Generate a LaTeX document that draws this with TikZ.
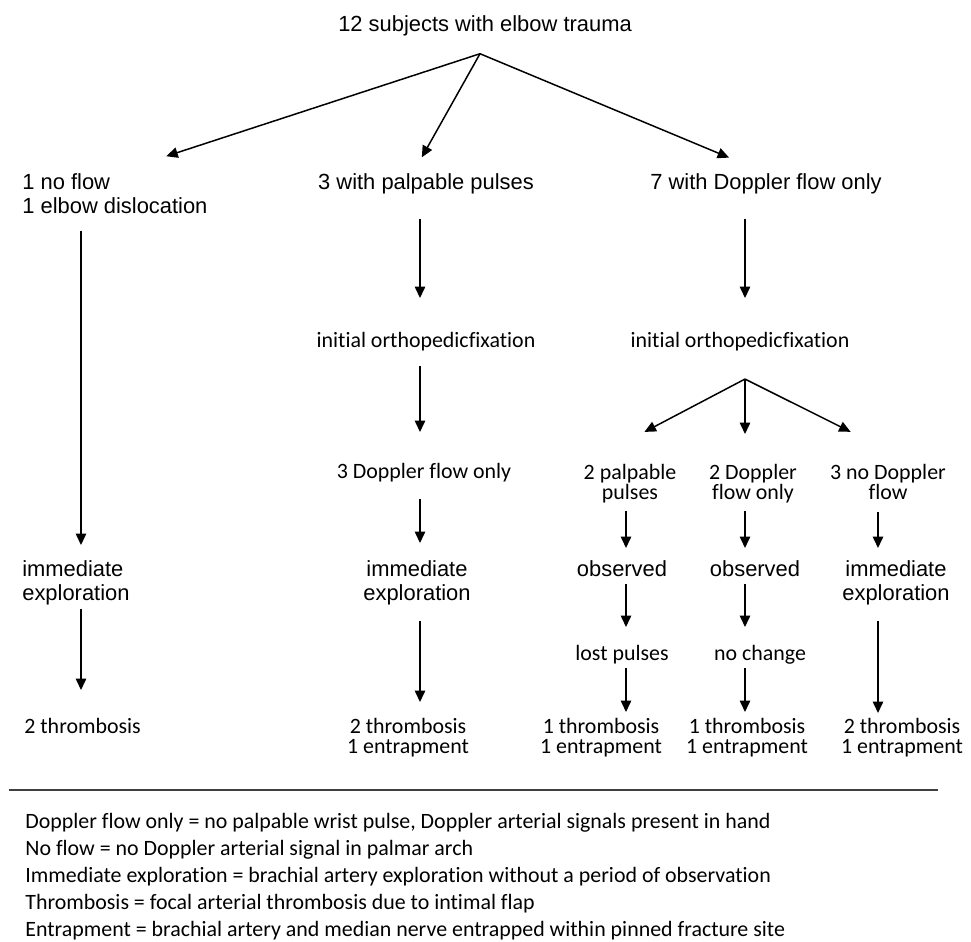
\documentclass[tikz,border=0pt]{standalone}
\usepackage{fontspec}
\setmainfont{Liberation Sans}
\newfontfamily\calibri[Ligatures=NoCommon]{Carlito}
\usetikzlibrary{arrows.meta}

\begin{document}
\begin{tikzpicture}[x=0.02cm,y=0.02cm,
 ari/.style={inner sep=0pt,font=\fontsize{12.47}{13.89}\selectfont},
 cal/.style={inner sep=0pt,font=\calibri\fontsize{12.47}{11.62}\selectfont},
 note/.style={inner sep=0pt,font=\calibri\fontsize{12.47}{15.31}\selectfont,align=left},
 arr/.style={-{Triangle[length=0.23cm,width=0.21cm]},line width=.85pt}]
\useasboundingbox (0,0) rectangle (971,-941);

\node[ari,anchor=north] (title) at (485,-15) {12 subjects with elbow trauma};
\node[ari,anchor=north west,align=left] (noflow) at (22,-173) {1 no flow\\1 elbow dislocation};
\node[ari,anchor=north] (palp) at (426,-173) {3 with palpable pulses};
\node[ari,anchor=north] (dopp) at (766,-173) {7 with Doppler flow only};
\node[cal,anchor=north] (fixB) at (426,-332) {initial orthopedicfixation};
\node[cal,anchor=north] (fixC) at (740,-332) {initial orthopedicfixation};
\node[cal,anchor=north] (dopB) at (424,-463) {3 Doppler flow only};
\node[cal,anchor=north,align=center] (palp2) at (630,-464) {2 palpable\\pulses};
\node[cal,anchor=north,align=center] (dopp2) at (753,-464) {2 Doppler\\flow only};
\node[cal,anchor=north,align=center] (nodop) at (888,-464) {3 no Doppler\\flow};
\node[ari,anchor=north west,align=left] (immA) at (22,-560) {immediate\\exploration};
\node[ari,anchor=north,align=center] (immB) at (417,-560) {immediate\\exploration};
\node[ari,anchor=north] (obsD) at (622,-560) {observed};
\node[ari,anchor=north] (obsC) at (755,-560) {observed};
\node[ari,anchor=north,align=center] (immE) at (896,-560) {immediate\\exploration};
\node[cal,anchor=north] (lost) at (622,-645) {lost pulses};
\node[cal,anchor=north] (nochg) at (760,-645) {no change};
\node[cal,anchor=north west] (thrA) at (24,-718) {2 thrombosis};
\node[cal,anchor=north,align=center] (thrB) at (408,-718) {2 thrombosis\\1 entrapment};
\node[cal,anchor=north,align=center] (thrD) at (601,-718) {1 thrombosis\\1 entrapment};
\node[cal,anchor=north,align=center] (thrC) at (747,-718) {1 thrombosis\\1 entrapment};
\node[cal,anchor=north,align=center] (thrE) at (902,-718) {2 thrombosis\\1 entrapment};

\coordinate (colL) at (81,0);
\coordinate (colB) at (420,0);
\coordinate (colC) at (745,0);
\coordinate (colD) at (626,0);
\coordinate (colE) at (878,0);
\path (title.south) ++(-5,-17.6) coordinate (hubA);
\path (fixC.south -| colC) ++(0,-27.6) coordinate (hubC);

\draw[arr,shorten >=1.08cm] (hubA) -- (noflow.north);
\draw[arr,shorten >=0.36cm] (hubA) -- ([xshift=-0.26cm]palp.north);
\draw[arr,shorten >=0.80cm] (hubA) -- (dopp.north);

\draw[arr,shorten <=0.33cm,shorten >=0.30cm] (noflow.south -| colL) -- (immA.north -| colL);
\draw[arr,shorten <=0.06cm,shorten >=0.56cm] (immA.south -| colL) -- (thrA.north -| colL);

\draw[arr,shorten <=0.49cm,shorten >=0.68cm] (palp.south -| colB) -- (fixB.north -| colB);
\draw[arr,shorten <=0.29cm,shorten >=0.62cm] (fixB.south -| colB) -- (dopB.north -| colB);
\draw[arr,shorten <=0.33cm,shorten >=0.34cm] (dopB.south -| colB) -- (immB.north -| colB);
\draw[arr,shorten <=0.30cm,shorten >=0.32cm] (immB.south -| colB) -- (thrB.north -| colB);

\draw[arr,shorten <=0.49cm,shorten >=0.68cm] (dopp.south -| colC) -- (fixC.north -| colC);
\draw[arr,shorten >=1.38cm] (hubC) -- (palp2.north west);
\draw[arr,shorten >=0.60cm] (hubC) -- (hubC |- dopp2.north);
\draw[arr,shorten >=1.44cm] (hubC) -- ([xshift=0.54cm]nodop.north);

\draw[arr,shorten <=0.14cm,shorten >=0.24cm] (palp2.south -| colD) -- (obsD.north -| colD);
\draw[arr,shorten <=0.14cm,shorten >=0.24cm] (dopp2.south -| colC) -- (obsC.north -| colC);
\draw[arr,shorten <=0.24cm,shorten >=0.24cm] (nodop.south -| colE) -- (immE.north -| colE);
\draw[arr,shorten <=0.14cm,shorten >=0.36cm] (obsD.south -| colD) -- (lost.north -| colD);
\draw[arr,shorten <=0.14cm,shorten >=0.36cm] (obsC.south -| colC) -- (nochg.north -| colC);
\draw[arr,shorten <=0.07cm,shorten >=0.12cm] (lost.south -| colD) -- (thrD.north -| colD);
\draw[arr,shorten <=0.07cm,shorten >=0.12cm] (nochg.south -| colC) -- (thrC.north -| colC);
\draw[arr,shorten <=0.30cm,shorten >=0.10cm] (immE.south -| colE) -- (thrE.north -| colE);

\draw[line width=1.4pt,black!75] (9,-790) -- (938,-790);
\node[note,anchor=north west] (legend) at (25,-813) {Doppler flow only = no palpable wrist pulse, Doppler arterial signals present in hand\\
No flow = no Doppler arterial signal in palmar arch\\
Immediate exploration = brachial artery exploration without a period of observation\\
Thrombosis = focal arterial thrombosis due to intimal flap\\
Entrapment = brachial artery and median nerve entrapped within pinned fracture site};
\end{tikzpicture}
\end{document}
